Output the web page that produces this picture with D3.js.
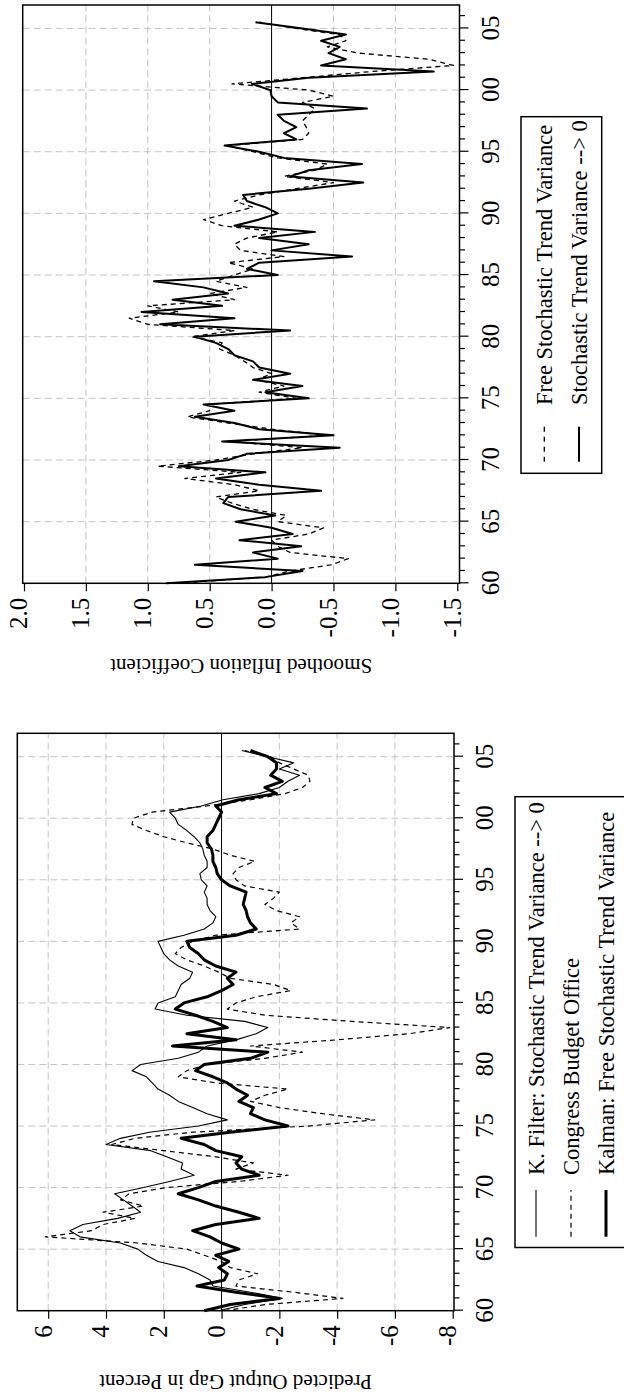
<!DOCTYPE html>
<meta charset="utf-8">
<style>
body {
  margin: 0;
  background: #fff;
}
svg {
  display: block;
  font-family: "Liberation Serif", "Times New Roman", serif;
}
.grid line {
  stroke: #c4c4c4;
  stroke-width: 1;
  stroke-dasharray: 7,4;
}
.frame {
  fill: none;
  stroke: #000;
  stroke-width: 1.5;
}
.axis path { display: none; }
.axis line { stroke: #000; stroke-width: 1.2; }
.zero { stroke: #000; stroke-width: 1; }
.legend-box { fill: #fff; stroke: #000; stroke-width: 1.5; }
</style>
<body>
<script src="https://d3js.org/d3.v7.min.js"></script>
<script>
// half-year dates, 1960.0 ... 2005.5
var halfYears = d3.range(0, 92).map(function(i) { return 1960 + i / 2; });

var yearTicks = [1960, 1965, 1970, 1975, 1980, 1985, 1990, 1995, 2000, 2005];
var yearLabels = ["60", "65", "70", "75", "80", "85", "90", "95", "00", "05"];
var minorYears = d3.range(1961, 2007).filter(function(t) { return t % 5 !== 0; });

// smoothed inflation coefficient
var inflTicks = [2.0, 1.5, 1.0, 0.5, 0.0, -0.5, -1.0, -1.5];
var inflFree = [0.78, 0.05, -0.15, -0.48, -0.62, -0.15, -0.05, 0.00, -0.30, -0.42,
  -0.05, -0.12, 0.15, 0.32, 0.45, 0.10, 0.30, 0.70, 0.25, 0.92,
  0.45, 0.15, -0.25, 0.35, -0.45, 0.00, 0.35, 0.68, 0.50, 0.52,
  -0.20, 0.10, -0.10, 0.12, 0.00, 0.15, 0.22, 0.30, 0.42, 0.40,
  0.65, 0.30, 1.00, 1.15, 0.75, 1.00, 0.30, 0.50, 0.20, 0.45,
  0.30, 0.15, 0.35, -0.10, 0.25, 0.30, 0.20, -0.05, 0.40, 0.55,
  0.35, 0.15, 0.30, 0.10, -0.20, -0.50, -0.10, -0.35, -0.45, -0.05,
  0.15, 0.35, -0.25, -0.30, -0.28, -0.25, -0.30, -0.35, -0.25, -0.50,
  -0.30, 0.32, -0.25, -0.80, -1.47, -1.27, -0.70, -0.45, -0.60, -0.55,
  -0.20, 0.10];
var inflZero = [0.85, 0.05, -0.25, 0.62, -0.05, 0.15, -0.24, 0.26, -0.17, 0.00,
  0.29, -0.03, 0.25, 0.39, 0.35, -0.40, 0.10, 0.45, 0.05, 0.75,
  0.35, 0.20, -0.55, 0.40, -0.50, 0.10, 0.30, 0.62, 0.30, 0.55,
  -0.30, 0.05, -0.25, 0.15, -0.15, 0.10, 0.15, 0.30, 0.35, 0.45,
  0.62, -0.15, 0.90, 0.30, 1.05, 0.40, 0.80, 0.35, 0.55, 0.95,
  -0.05, 0.20, 0.10, -0.65, 0.00, -0.30, 0.10, -0.35, 0.30, 0.10,
  -0.05, 0.05, 0.20, 0.23, -0.30, -0.74, -0.15, -0.30, -0.73, -0.10,
  0.10, 0.38, -0.20, -0.10, -0.20, -0.10, -0.05, -0.77, -0.05, 0.00,
  0.01, 0.16, -0.30, -1.31, -0.40, -0.60, -0.46, -0.55, -0.40, -0.60,
  -0.25, 0.13];

// predicted output gap in percent
var gapTicks = [6, 4, 2, 0, -2, -4, -6, -8];
var gapKF = [0.1, -0.8, -2.1, -1.0, 0.3, 0.4, 0.8, 1.3, 2.2, 2.6,
  2.9, 3.5, 4.9, 5.25, 4.8, 3.6, 2.8, 3.1, 3.4, 3.7,
  2.7, 1.8, 0.95, 1.4, 1.35, 1.9, 2.45, 4.0, 3.5, 2.5,
  0.8, -0.2, 0.5, 1.0, 1.5, 1.8, 2.2, 2.4, 2.6, 3.1,
  2.8, 1.5, 0.8, 0.5, -0.5, -1.2, -1.6, -0.8, 1.2, 2.3,
  2.2, 1.6, 1.5, 1.4, 1.1, 1.0, 1.5, 1.8, 2.0, 2.1,
  2.2, 1.3, 0.6, 0.3, 0.2, 0.4, 0.5, 0.5, 0.6, 0.5,
  0.7, 0.75, 0.5, 0.5, 0.6, 0.65, 0.75, 0.95, 1.2, 1.5,
  1.6, 1.8, 0.7, -0.05, -1.3, -2.0, -2.3, -2.7, -2.0, -2.5,
  -1.6, -0.7];
var gapCBO = [-0.1, -1.5, -4.2, -2.5, -0.5, -0.6, -1.25, -0.3, 0.0, 0.6,
  1.2, 2.9, 6.1, 4.5, 4.1, 3.0, 4.1, 2.7, 3.5, 3.2,
  1.9, -0.6, -2.3, -0.5, -1.1, 0.2, 2.0, 3.8, 3.0, 1.0,
  -3.0, -5.3, -3.5, -2.0, -1.0, -1.5, -2.3, 0.2, 1.5, 1.2,
  0.5, -1.5, -2.8, -1.0, -4.0, -6.5, -7.9, -4.5, -1.5, -0.2,
  -0.5, -1.2, -2.4, -1.8, -0.3, 0.1, 0.6, 1.2, 1.6, 1.4,
  1.0, 0.2, -2.7, -2.4, -2.7, -1.9, -1.5, -1.8, -2.0, -0.8,
  -0.5, -0.4, -0.6, -1.15, -0.3, 0.3, 1.2, 2.0, 2.6, 3.1,
  3.05, 2.4, 0.5, -1.0, -2.2, -2.8, -3.06, -3.0, -2.5, -2.0,
  -1.7, -0.8];
var gapKalman = [0.6, -0.3, -2.0, -0.5, 0.85, -0.1, -0.2, 0.1, -0.25, 0.2,
  -0.6, 0.0, 0.4, 1.0, 0.2, -1.3, -0.6, 0.2, 0.8, 1.5,
  0.8, 0.2, -1.3, -0.7, -0.5, -0.7, 0.2, 0.6, 1.4, -0.3,
  -2.3, -1.5, -1.0, -1.1, -0.6, -0.9, -0.5, -0.2, 0.3, 0.9,
  0.6, -1.0, -1.6, 1.7, -0.5, 1.2, -0.2, 0.3, 0.9, 1.6,
  1.3, 0.5, 0.0, -0.4, -0.2, -0.5, 0.2, 0.6, 0.8, 1.1,
  1.2, -0.5, -1.2, -1.0, -0.9, -0.85, -0.75, -0.8, -0.85, -0.3,
  0.0, 0.15, 0.2, 0.3, 0.3, 0.35, 0.5, 0.5, 0.3, 0.2,
  0.1, 0.0, 0.2, -0.6, -1.9, -1.5, -2.1, -1.7, -1.9, -1.9,
  -1.6, -1.0];

// plain hyphen for negative labels, as in the original
var loc = d3.formatLocale({ decimal: ".", thousands: ",", grouping: [3], currency: ["", ""], minus: "-" });

// the figure is laid out as a wide page, then turned a quarter turn
var W = 1397;

var svg = d3.select("body").append("svg")
  .attr("width", 624)
  .attr("height", 1397);

var page = svg.append("g")
  .attr("transform", "translate(0," + W + ") rotate(-90)");

function panel(o) {
  var g = page.append("g");
  var x = d3.scaleLinear().domain([1960, 2006.9]).range([o.left, o.right]);
  var y = d3.scaleLinear().domain(o.yDomain).range([o.top, o.bottom]);

  var grid = g.append("g").attr("class", "grid");
  grid.selectAll(".gy")
    .data(o.yTicks.filter(function(v) { return v !== 0 && y(v) > o.top + 3 && y(v) < o.bottom - 3; }))
    .enter().append("line")
      .attr("x1", o.left).attr("x2", o.right)
      .attr("y1", function(d) { return y(d); })
      .attr("y2", function(d) { return y(d); });
  grid.selectAll(".gx")
    .data(yearTicks.filter(function(t) { return x(t) > o.left + 3 && x(t) < o.right - 3; }))
    .enter().append("line")
      .attr("y1", o.top).attr("y2", o.bottom)
      .attr("x1", function(d) { return x(d); })
      .attr("x2", function(d) { return x(d); });

  g.append("line").attr("class", "zero")
    .attr("x1", o.left).attr("x2", o.right)
    .attr("y1", y(0)).attr("y2", y(0));

  var line = d3.line()
    .x(function(d, i) { return x(halfYears[i]); })
    .y(function(d) { return y(d); });

  o.series.forEach(function(s) {
    g.append("path")
      .datum(s.values)
      .attr("d", line)
      .attr("fill", "none")
      .attr("stroke", "#000")
      .attr("stroke-width", s.width)
      .attr("stroke-dasharray", s.dash || null)
      .attr("stroke-linejoin", "round");
  });

  g.append("rect").attr("class", "frame")
    .attr("x", o.left).attr("y", o.top)
    .attr("width", o.right - o.left).attr("height", o.bottom - o.top);

  var ya = g.append("g").attr("class", "axis")
    .attr("transform", "translate(" + o.left + ",0)")
    .call(d3.axisLeft(y).tickValues(o.yTicks).tickSize(8).tickPadding(6.5).tickFormat(o.yFormat));
  ya.attr("font-size", null).attr("font-family", null);
  ya.selectAll("text").attr("dy", 2.8).style("font-size", "25px");

  var xa = g.append("g").attr("class", "axis")
    .attr("transform", "translate(0," + o.bottom + ")")
    .call(d3.axisBottom(x).tickValues(yearTicks).tickSize(9)
      .tickFormat(function(d, i) { return yearLabels[i]; }));
  xa.attr("font-size", null).attr("font-family", null);
  xa.selectAll("text").attr("y", 39).attr("dy", null).style("font-size", "25px");

  g.append("g").attr("class", "axis")
    .attr("transform", "translate(0," + o.bottom + ")")
    .call(d3.axisBottom(x).tickValues(minorYears).tickSize(5.5).tickFormat(""));

  g.append("text")
    .attr("transform", "translate(" + o.titleX + "," + (o.top + o.bottom) / 2 + ") rotate(-90)")
    .attr("text-anchor", "middle")
    .style("font-size", "21px")
    .text(o.title);

  var L = o.legend;
  var lg = g.append("g");
  lg.append("rect").attr("class", "legend-box")
    .attr("x", L.left).attr("y", L.top)
    .attr("width", L.right - L.left).attr("height", L.bottom - L.top);
  L.rows.forEach(function(r) {
    lg.append("line")
      .attr("x1", L.symLeft).attr("x2", L.symRight)
      .attr("y1", r.y).attr("y2", r.y)
      .attr("stroke", "#000")
      .attr("stroke-width", r.width)
      .attr("stroke-dasharray", r.dash || null);
    lg.append("text")
      .attr("x", L.textX).attr("y", r.y + 7.5)
      .style("font-size", "22.5px")
      .text(r.label);
  });
}

// left panel of the page: output gap
panel({
  left: 86.3, right: 663.7, top: 17.3, bottom: 454,
  yDomain: [7.07, -8.045],
  yTicks: gapTicks,
  yFormat: loc.format("d"),
  titleX: 22,
  title: "Predicted Output Gap in Percent",
  series: [
    { values: gapKF, width: 1.1 },
    { values: gapCBO, width: 1.2, dash: "5,4" },
    { values: gapKalman, width: 3 }
  ],
  legend: {
    left: 149.5, right: 600.3, top: 515, bottom: 629,
    symLeft: 160.3, symRight: 207, textX: 222,
    rows: [
      { y: 536, label: "K. Filter: Stochastic Trend Variance --> 0", width: 1.1 },
      { y: 571, label: "Congress Budget Office", width: 1.2, dash: "5,4" },
      { y: 606, label: "Kalman: Free Stochastic Trend Variance", width: 3 }
    ]
  }
});

// right panel of the page: inflation coefficient
panel({
  left: 813.7, right: 1392, top: 22.7, bottom: 459.5,
  yDomain: [2.0105, -1.518],
  yTicks: inflTicks,
  yFormat: loc.format(".1f"),
  titleX: 738,
  title: "Smoothed Inflation Coefficient",
  series: [
    { values: inflFree, width: 1.3, dash: "5,4" },
    { values: inflZero, width: 2 }
  ],
  legend: {
    left: 923.7, right: 1280.3, top: 521, bottom: 601.7,
    symLeft: 935.3, symRight: 970.3, textX: 992,
    rows: [
      { y: 544.3, label: "Free Stochastic Trend Variance", width: 1.3, dash: "5,5" },
      { y: 579, label: "Stochastic Trend Variance --> 0", width: 2 }
    ]
  }
});
</script>
